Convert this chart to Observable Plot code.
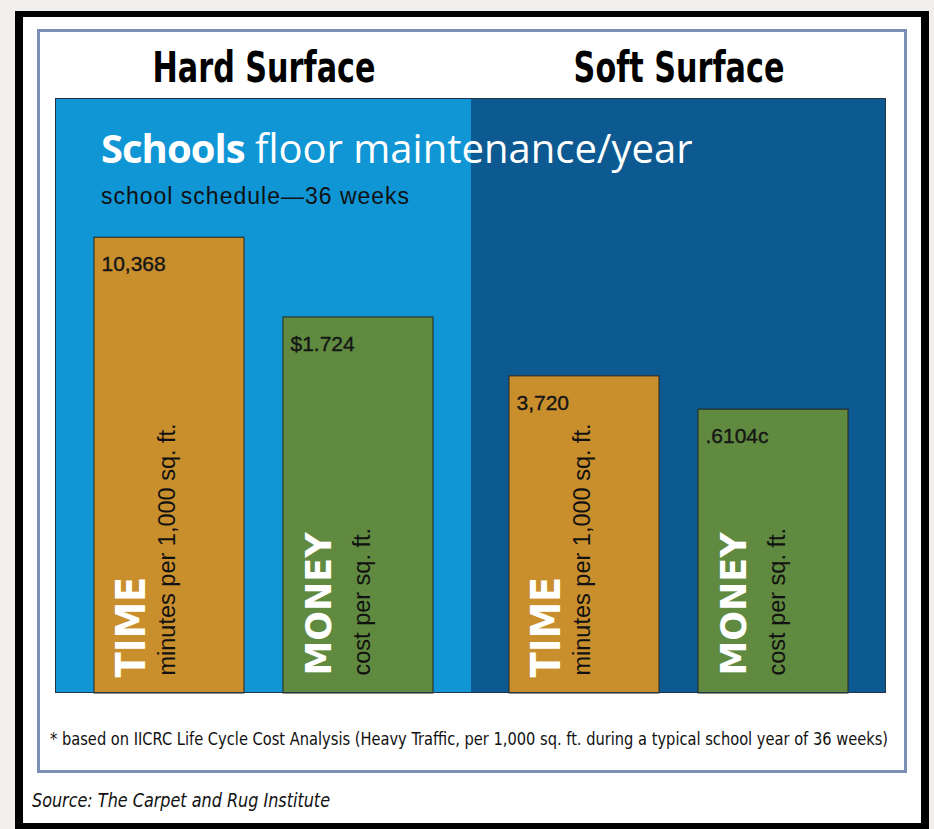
<!DOCTYPE html>
<html>
<head>
<meta charset="utf-8">
<script src="https://cdn.jsdelivr.net/npm/d3@7"></script>
<script src="https://cdn.jsdelivr.net/npm/@observablehq/plot@0.6"></script>
<style>
  html, body { margin: 0; padding: 0; }
  body { width: 934px; height: 829px; overflow: hidden; background: #f1f0ec; position: relative; font-family: "Liberation Sans", Arial, sans-serif; }
  #outer { position: absolute; left: 15px; top: 11px; width: 914px; height: 820px; box-sizing: border-box; border: 8px solid #000; border-top-width: 6px; background: #fff; }
  #inner { position: absolute; left: 37px; top: 29px; width: 870px; height: 744px; box-sizing: border-box; border: 3px solid #7d8fb3; }
  #chart { position: absolute; left: 55px; top: 28px; }
  #plotedge { position: absolute; left: 55px; top: 98px; width: 831px; height: 595px; box-sizing: border-box; border: 1px solid #243444; pointer-events: none; }
  #title { position: absolute; left: 101px; top: 127px; font-family: "Open Sans", sans-serif; font-size: 40px; line-height: 41px; color: #fff; white-space: nowrap; }
  #title b { font-weight: 700; letter-spacing: -1px; }
  #subtitle { position: absolute; left: 101px; top: 185px; font-family: "Liberation Sans", Arial, sans-serif; font-size: 23px; line-height: 23px; letter-spacing: 1px; color: #111; white-space: nowrap; }
  #note { position: absolute; left: 50px; top: 731px; font-family: "DejaVu Sans Condensed", "DejaVu Sans", sans-serif; font-size: 17px; line-height: 17px; color: #111; white-space: nowrap; transform-origin: 0 50%; }
  #source { position: absolute; left: 32px; top: 791px; font-family: "DejaVu Sans Condensed", "DejaVu Sans", sans-serif; font-style: italic; font-size: 19px; line-height: 19px; color: #111; white-space: nowrap; transform-origin: 0 50%; }
</style>
</head>
<body>
<div id="outer"></div>
<div id="inner"></div>
<div id="chart"></div>
<div id="plotedge"></div>
<div id="title"></div>
<div id="subtitle"></div>
<div id="note"></div>
<div id="source"></div>
<script>
// ---- data ----
const surfaces = ["Hard Surface", "Soft Surface"];
const metrics = ["TIME", "MONEY"];
const metricUnits = ["minutes per 1,000 sq. ft.", "cost per sq. ft."];
const values = [10368, 1.724, 3720, 0.6104];           // Hard TIME, Hard MONEY, Soft TIME, Soft MONEY
const valueLabels = ["10,368", "$1.724", "3,720", ".6104c"];
// drawn bar heights (% of panel height) as they appear in the picture (not to a common scale)
const barHeights = [76.6, 63.2, 53.3, 47.7];
const titleBold = "Schools";
const titleRest = " floor maintenance/year";
const subtitleText = "school schedule\u201436 weeks";
const noteText = "* based on IICRC Life Cycle Cost Analysis (Heavy Traffic, per 1,000 sq. ft. during a typical school year of 36 weeks)";
const sourceText = "Source: The Carpet and Rug Institute";

const colors = ["#1095d5", "#0c5a91", "#c98f2d", "#5f8a3f"]; // hard bg, soft bg, time, money
const yMax = 100;

const bars = values.map((v, i) => ({
  surface: surfaces[Math.floor(i / 2)],
  metric: metrics[i % 2],
  unit: metricUnits[i % 2],
  value: v,
  label: valueLabels[i],
  height: barHeights[i]
}));
const timeBars = bars.filter(d => d.metric === "TIME");
const moneyBars = bars.filter(d => d.metric === "MONEY");

const chart = Plot.plot({
  width: 831,
  height: 665,
  marginTop: 70, marginBottom: 0, marginLeft: 0, marginRight: 0,
  style: { background: "transparent", overflow: "visible", fontFamily: "Liberation Sans, Arial, sans-serif" },
  fx: { domain: surfaces, padding: 0, label: null },
  x: { domain: metrics, paddingInner: 0.205, paddingOuter: 0.195, axis: null },
  y: { domain: [0, yMax], axis: null },
  color: { domain: [...surfaces, ...metrics], range: colors },
  marks: [
    Plot.barY(surfaces, { fx: d => d, y1: 0, y2: yMax, fill: d => d }),
    Plot.axisFx({ anchor: "top", tickSize: 0, tickPadding: 17, label: null,
      fontSize: 42, fontWeight: "bold", fontFamily: "DejaVu Sans Condensed, DejaVu Sans, sans-serif", fill: "#000" }),
    Plot.barY(bars, { fx: "surface", x: "metric", y: "height", fill: "metric", stroke: "#2a2418", strokeWidth: 1 }),
    Plot.text(bars, { fx: "surface", x: "metric", y: "height", text: "label", textAnchor: "start", lineAnchor: "middle",
      dx: -68, dy: 27, fontSize: 21, fill: "#161616", stroke: "#161616", strokeWidth: 0.4 }),
    Plot.text(timeBars, { fx: "surface", x: "metric", y: 0, text: "metric", rotate: -90, textAnchor: "start", lineAnchor: "middle",
      dx: -38, dy: -16, fontSize: 41, fontWeight: "bold", fontFamily: "DejaVu Sans Condensed, DejaVu Sans, sans-serif", fill: "#fff" }),
    Plot.text(moneyBars, { fx: "surface", x: "metric", y: 0, text: "metric", rotate: -90, textAnchor: "start", lineAnchor: "middle",
      dx: -39, dy: -18, fontSize: 35, fontWeight: "bold", fontFamily: "DejaVu Sans, sans-serif", fill: "#fff" }),
    Plot.text(timeBars, { fx: "surface", x: "metric", y: 0, text: "unit", rotate: -90, textAnchor: "start", lineAnchor: "middle",
      dx: -2, dy: -18, fontSize: 23.5, fill: "#111" }),
    Plot.text(moneyBars, { fx: "surface", x: "metric", y: 0, text: "unit", rotate: -90, textAnchor: "start", lineAnchor: "middle",
      dx: 4, dy: -18, fontSize: 23.5, fill: "#111" })
  ]
});
document.getElementById("chart").appendChild(chart);

// condense the panel headings to the narrow look of the original
d3.select(chart).selectAll('g[aria-label="fx-axis tick label"] text').each(function () {
  const w = this.getComputedTextLength();
  this.setAttribute("textLength", (w * 0.8).toFixed(1));
  this.setAttribute("lengthAdjust", "spacingAndGlyphs");
});

const t = document.getElementById("title");
const b = document.createElement("b");
b.textContent = titleBold;
t.appendChild(b);
t.appendChild(document.createTextNode(titleRest));
document.getElementById("subtitle").textContent = subtitleText;

function fitWidth(el, text, w) {
  el.textContent = text;
  const nat = el.getBoundingClientRect().width;
  el.style.transform = `scaleX(${w / nat})`;
}
fitWidth(document.getElementById("note"), noteText, 838);
fitWidth(document.getElementById("source"), sourceText, 298);
</script>
</body>
</html>
